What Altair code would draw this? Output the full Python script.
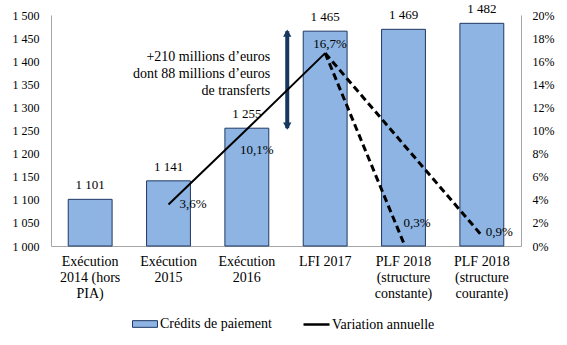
import altair as alt
import pandas as pd

# ---------------- data ----------------
categories = [
    "Exécution\n2014 (hors\nPIA)",
    "Exécution\n2015",
    "Exécution\n2016",
    "LFI 2017",
    "PLF 2018\n(structure\nconstante)",
    "PLF 2018\n(structure\ncourante)",
]
credits = [1101, 1141, 1255, 1465, 1469, 1482]          # millions d'euros
variation = [None, 3.6, 10.1, 16.7, 0.3, 0.9]           # % annual change
left_ticks = list(range(1000, 1501, 50))
right_ticks = list(range(0, 21, 2))
annotation_lines = ["+210 millions d\u2019euros", "dont 88 millions d\u2019euros", "de transferts"]
series_bar = "Crédits de paiement"
series_line = "Variation annuelle"

# ---------------- tables ----------------
df_bar = pd.DataFrame({
    "cat": categories,
    "val": credits,
    "lab": [f"{v:,}".replace(",", " ") for v in credits],
    "series": series_bar,
})

solid_idx = [1, 2, 3]
df_solid = pd.DataFrame({
    "cat": [categories[i] for i in solid_idx],
    "pct": [variation[i] for i in solid_idx],
    "series": series_line,
})
dash_rows = []
for k, end in enumerate([4, 5]):
    for i in (3, end):
        dash_rows.append({"cat": categories[i], "pct": variation[i], "seg": f"s{k}"})
df_dash = pd.DataFrame(dash_rows)

df_pct = pd.DataFrame({
    "cat": categories,
    "pct": variation,
    "lab": [("" if v is None else f"{v:.1f}".replace(".", ",") + "%") for v in variation],
})

df_arrow = pd.DataFrame({"cat": [categories[3]], "y": [credits[2]], "y2": [credits[3]]})
df_note = pd.DataFrame({"cat": [categories[3]], "y": [credits[3]], "txt": [annotation_lines]})

# ---------------- styles ----------------
BAR_FILL = "#8DB4E2"
BAR_EDGE = "#1F3864"
ARROW = "#17375E"
AXIS_GREY = "#A6A6A6"
FONT = "Liberation Serif"
ARROW_SHIFT = -16

x_scale = alt.Scale(domain=categories, paddingInner=0.44, paddingOuter=0.22)
x_axis = alt.Axis(
    title=None, labelAngle=0, labelExpr="split(datum.label, '\\n')",
    labelFontSize=14, labelColor="black", labelPadding=8, ticks=False,
    domainColor=AXIS_GREY, labelLineHeight=16, labelBaseline="top",
    labelFont=FONT,
)
x_enc = alt.X("cat:N", sort=categories, scale=x_scale, axis=x_axis)
x_gap = alt.X("cat:N", sort=categories, scale=x_scale, axis=x_axis, bandPosition=0)

yl_scale = alt.Scale(domain=[left_ticks[0], left_ticks[-1]], nice=False, zero=False)
yl_axis = alt.Axis(
    title=None, orient="left", values=left_ticks,
    labelExpr="replace(format(datum.value, ','), ',', ' ')",
    ticks=False, grid=False, labelFontSize=12, labelPadding=12,
    domainColor=AXIS_GREY, labelColor="black", labelFont=FONT,
)
yr_scale = alt.Scale(domain=[right_ticks[0], right_ticks[-1]], nice=False)
yr_axis = alt.Axis(
    title=None, orient="right", values=right_ticks,
    labelExpr="datum.value + '%'", ticks=False, grid=False,
    labelFontSize=12, labelPadding=11, domainColor=AXIS_GREY, labelColor="black",
    labelFont=FONT,
)

# ---------------- left-axis layers ----------------
bars = alt.Chart(df_bar).mark_bar(stroke=BAR_EDGE, strokeWidth=1).encode(
    x=x_enc,
    y=alt.Y("val:Q", scale=yl_scale, axis=yl_axis),
    y2=alt.datum(left_ticks[0]),
    fill=alt.Fill(
        "series:N",
        scale=alt.Scale(domain=[series_bar], range=[BAR_FILL]),
        legend=alt.Legend(
            title=None, orient="none", legendX=85, legendY=300,
            symbolType="M-1.5,-0.4H1.5V0.4H-1.5Z", symbolSize=278,
            symbolStrokeColor=BAR_EDGE, symbolStrokeWidth=1,
            labelFontSize=14, labelOffset=6, labelColor="black", labelFont=FONT,
        ),
    ),
)

bar_labels = alt.Chart(df_bar).mark_text(
    fontSize=13, baseline="middle", dy=-14, color="black", font=FONT
).encode(
    x=x_enc,
    y=alt.Y("val:Q", scale=yl_scale, axis=yl_axis),
    text="lab:N",
)

arrow_shaft = alt.Chart(df_arrow).mark_rule(
    color=ARROW, strokeWidth=4, xOffset=ARROW_SHIFT
).encode(
    x=x_gap,
    y=alt.Y("y:Q", scale=yl_scale, axis=yl_axis),
    y2="y2:Q",
)
arrow_top = alt.Chart(df_arrow).mark_point(
    shape="triangle-up", filled=True, color=ARROW, size=70, opacity=1,
    xOffset=ARROW_SHIFT, yOffset=2,
).encode(
    x=x_gap,
    y=alt.Y("y2:Q", scale=yl_scale, axis=yl_axis),
)
arrow_bot = alt.Chart(df_arrow).mark_point(
    shape="triangle-down", filled=True, color=ARROW, size=70, opacity=1,
    xOffset=ARROW_SHIFT, yOffset=-2,
).encode(
    x=x_gap,
    y=alt.Y("y:Q", scale=yl_scale, axis=yl_axis),
)

note = alt.Chart(df_note).mark_text(
    fontSize=14, align="right", baseline="top", dx=ARROW_SHIFT - 17, dy=19,
    lineHeight=17, color="black", font=FONT,
).encode(
    x=x_gap,
    y=alt.Y("y:Q", scale=yl_scale, axis=yl_axis),
    text="txt",
)

left = alt.layer(bars, bar_labels, arrow_shaft, arrow_top, arrow_bot, note)

# ---------------- right-axis layers ----------------
solid = alt.Chart(df_solid).mark_line(strokeWidth=2).encode(
    x=x_enc,
    y=alt.Y("pct:Q", scale=yr_scale, axis=yr_axis),
    stroke=alt.Stroke(
        "series:N",
        scale=alt.Scale(domain=[series_line], range=["black"]),
        legend=alt.Legend(
            title=None, orient="none", legendX=251, legendY=295,
            symbolType="stroke", symbolSize=676, symbolStrokeWidth=2.5,
            labelFontSize=14, labelOffset=1, labelColor="black", labelFont=FONT,
        ),
    ),
)

dashed = alt.Chart(df_dash).mark_line(
    strokeWidth=3, strokeDash=[7, 4], color="black"
).encode(
    x=x_enc,
    y=alt.Y("pct:Q", scale=yr_scale, axis=yr_axis),
    detail="seg:N",
)

pct_style = {
    1: ("left", 11, 0),
    2: ("center", 10, 21),
    3: ("center", 5, -9),
    4: ("left", 0, -20),
    5: ("left", 4, -4),
}
pct_layers = []
for i, (al, ddx, ddy) in pct_style.items():
    pct_layers.append(
        alt.Chart(df_pct.iloc[[i]]).mark_text(
            fontSize=13, align=al, baseline="middle", dx=ddx, dy=ddy,
            color="black", font=FONT,
        ).encode(
            x=x_enc,
            y=alt.Y("pct:Q", scale=yr_scale, axis=yr_axis),
            text="lab:N",
        )
    )

right = alt.layer(solid, dashed, *pct_layers)

chart = (
    alt.layer(left, right)
    .resolve_scale(y="independent", fill="independent", stroke="independent")
    .properties(
        width=470, height=231,
        autosize=alt.AutoSizeParams(type="none"),
        padding={"left": 51, "top": 15, "right": 46, "bottom": 99},
    )
    .configure(font=FONT)
    .configure_view(stroke=None)
    .configure_legend(labelFont=FONT, padding=0)
)

chart.save("out.html", embed_options={"renderer": "svg", "actions": False})
